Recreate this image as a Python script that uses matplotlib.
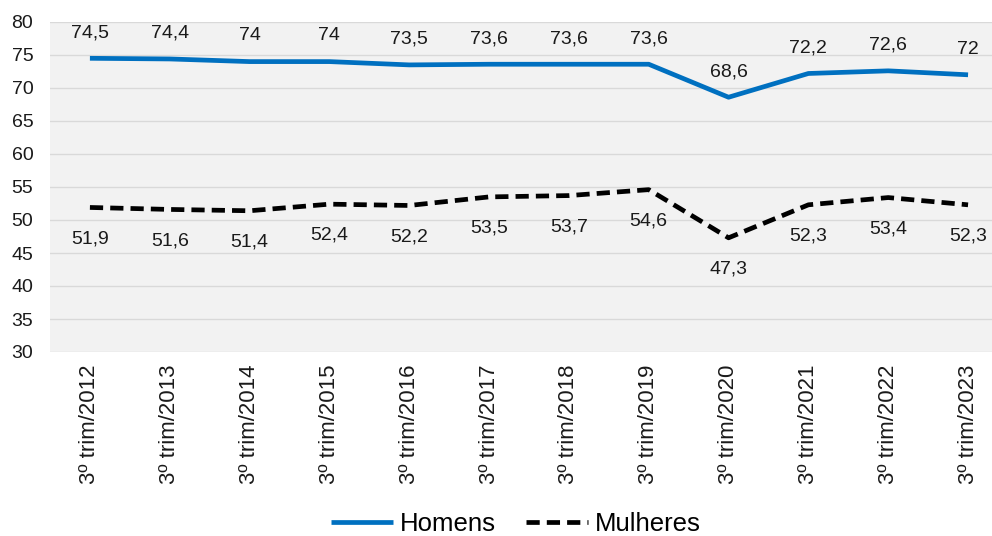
import matplotlib.pyplot as plt

plt.rcParams['font.family'] = ['Liberation Sans', 'DejaVu Sans']

# dados
periodos = ["3º trim/2012", "3º trim/2013", "3º trim/2014", "3º trim/2015",
            "3º trim/2016", "3º trim/2017", "3º trim/2018", "3º trim/2019",
            "3º trim/2020", "3º trim/2021", "3º trim/2022", "3º trim/2023"]
homens = [74.5, 74.4, 74, 74, 73.5, 73.6, 73.6, 73.6, 68.6, 72.2, 72.6, 72]
mulheres = [51.9, 51.6, 51.4, 52.4, 52.2, 53.5, 53.7, 54.6, 47.3, 52.3, 53.4, 52.3]


def fmt(v):
    s = ("%.1f" % v).rstrip("0").rstrip(".")
    return s.replace(".", ",")


fig = plt.figure(figsize=(9.92, 5.36), dpi=100)
ax = fig.add_axes([50 / 992, 1 - 352 / 536, 942 / 992, 330 / 536])
ax.set_facecolor("#f2f2f2")

x = list(range(len(periodos)))
l1, = ax.plot(x, homens, color="#0070c0", lw=3.4, solid_capstyle="butt", label="Homens")
l2, = ax.plot(x, mulheres, color="black", lw=3.4, dashes=(2.8, 1.5), label="Mulheres")

for i, v in enumerate(homens):
    ax.annotate(fmt(v), (i, v), xytext=(0, 18.5), textcoords="offset points",
                ha="center", va="center", fontsize=14, color="#1a1a1a")
for i, v in enumerate(mulheres):
    ax.annotate(fmt(v), (i, v), xytext=(0, -22.5), textcoords="offset points",
                ha="center", va="center", fontsize=14, color="#1a1a1a")

ax.set_ylim(30, 80)
ax.set_yticks(range(30, 81, 5))
ax.set_xlim(-0.5, 11.3)
ax.set_xticks(x)
ax.set_xticklabels(periodos, rotation=90, fontsize=16)
ax.tick_params(axis="both", length=0, colors="#1a1a1a")
ax.tick_params(axis="y", labelsize=14, pad=12)
ax.tick_params(axis="x", pad=9)
ax.grid(axis="y", color="#d9d9d9", lw=1)
ax.set_axisbelow(True)
for sp in ax.spines.values():
    sp.set_visible(False)

fig.legend(handles=[l1, l2], loc="center", bbox_to_anchor=(516 / 992, 1 - 524 / 536),
           ncol=2, frameon=False, fontsize=18.5, handlelength=2.4,
           handletextpad=0.27, columnspacing=1.2)

fig.savefig("out.png", dpi=100)
